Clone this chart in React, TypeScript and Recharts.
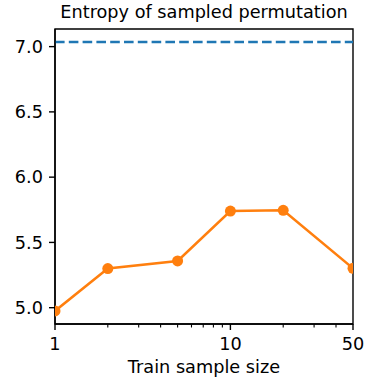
import React from 'react';
import { LineChart, Line, XAxis, YAxis, ReferenceLine, ReferenceArea } from 'recharts';

const sampleSizes = [1, 2, 5, 10, 20, 50];
const entropy = [4.975, 5.3, 5.358, 5.74, 5.746, 5.302];
const maxEntropy = 7.036;
const yDomain = [4.875, 7.135];
const yTicks = [5.0, 5.5, 6.0, 6.5, 7.0];
const xMajorTicks = [1, 10, 50];
const xAllTicks = [1, 2, 3, 4, 5, 6, 7, 8, 9, 10, 20, 30, 40, 50];
const title = 'Entropy of sampled permutation';
const xLabel = 'Train sample size';

const data = sampleSizes.map((x, i) => ({ x, y: entropy[i] }));

const FONT = 'DejaVu Sans';
const FS = 17.7;
const MAJOR_LEN = 6;
const MINOR_LEN = 3.5;
const TICK_PAD = 7;

function XTick(props: any) {
  const { x, y, payload } = props;
  const v = payload.value;
  const major = xMajorTicks.includes(v);
  const len = major ? MAJOR_LEN : MINOR_LEN;
  return (
    <g>
      <line x1={x} x2={x} y1={y} y2={y + len} stroke="#000" strokeWidth={major ? 1.4 : 1.1} />
      {major && (
        <text
          x={x}
          y={y + len + TICK_PAD}
          dy="0.71em"
          textAnchor="middle"
          fontSize={FS}
          fontFamily={FONT}
          fill="#000"
        >
          {String(v)}
        </text>
      )}
    </g>
  );
}

export default function App() {
  return (
    <div style={{ position: 'absolute', left: 0, top: 0, width: 366, height: 378, background: '#fff' }}>
      <div
        style={{
          position: 'absolute',
          left: 55,
          top: 4.3,
          width: 298,
          textAlign: 'center',
          fontFamily: FONT,
          fontSize: FS,
          lineHeight: 1,
          color: '#000',
          whiteSpace: 'nowrap',
        }}
      >
        {title}
      </div>
      <LineChart width={366} height={378} data={data} margin={{ top: 29, right: 13, bottom: 0, left: 0 }}>
        <XAxis
          dataKey="x"
          type="number"
          scale="log"
          domain={[1, 50]}
          allowDataOverflow
          ticks={xAllTicks}
          interval={0}
          tickSize={0}
          tickMargin={0}
          height={54}
          axisLine={{ stroke: '#000', strokeWidth: 1.4 }}
          tickLine={false}
          tick={<XTick />}
          label={{ value: xLabel, position: 'insideBottom', offset: 5, fontSize: FS, fill: '#000', fontFamily: FONT }}
        />
        <YAxis
          type="number"
          domain={yDomain}
          allowDataOverflow
          ticks={yTicks}
          interval={0}
          width={55}
          tickSize={6}
          tickMargin={6}
          tickFormatter={(v: number) => v.toFixed(1)}
          axisLine={{ stroke: '#000', strokeWidth: 1.4 }}
          tickLine={{ stroke: '#000', strokeWidth: 1.4 }}
          tick={{ fontSize: FS, fill: '#000', fontFamily: FONT }}
        />
        <ReferenceLine
          y={maxEntropy}
          stroke="#1f77b4"
          strokeWidth={2.5}
          strokeDasharray="9.6 4.2"
        />
        <Line
          dataKey="y"
          stroke="#ff7f0e"
          strokeWidth={2.5}
          dot={{ r: 5.5, fill: '#ff7f0e', stroke: '#ff7f0e', strokeWidth: 0 }}
          isAnimationActive={false}
        />
        <ReferenceArea
          x1={1}
          x2={50}
          y1={yDomain[0]}
          y2={yDomain[1]}
          fill="none"
          fillOpacity={0}
          stroke="#000"
          strokeWidth={1.4}
          strokeOpacity={1}
        />
      </LineChart>
    </div>
  );
}
